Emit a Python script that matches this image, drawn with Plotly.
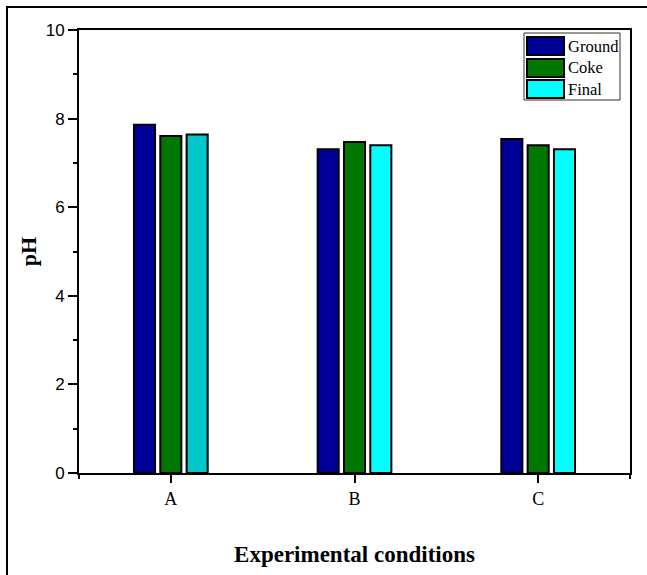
import plotly.graph_objects as go

categories = ["A", "B", "C"]
series_names = ["Ground", "Coke", "Final"]
ground = [7.86, 7.31, 7.54]
coke = [7.61, 7.47, 7.40]
final = [7.64, 7.40, 7.31]
y_ticks = [0, 2, 4, 6, 8, 10]

colors = {
    "Ground": ["#000099"] * 3,
    "Coke": ["#007700"] * 3,
    "Final": ["#00C8C8", "#00FFFF", "#00FFFF"],
}
legend_colors = {"Ground": "#000099", "Coke": "#007700", "Final": "#00FFFF"}

x_pos = list(range(len(categories)))
fig = go.Figure()
for name, vals in zip(series_names, [ground, coke, final]):
    fig.add_trace(go.Bar(
        x=x_pos, y=vals, name=name, showlegend=False,
        marker=dict(color=colors[name], line=dict(color="black", width=2)),
    ))

W, H = 647, 575
L, R, T, B = 79, 17, 30, 102
pw, ph = W - L - R, H - T - B

def px_x(x):
    return (x - L) / pw

def px_y(y):
    return (H - B - y) / ph

shapes = []
annotations = []
# outer frame
shapes.append(dict(type="rect", xref="paper", yref="paper",
                   x0=px_x(7), x1=px_x(660), y0=px_y(7), y1=px_y(600),
                   line=dict(color="black", width=2), fillcolor="rgba(0,0,0,0)", layer="below"))
# legend box
shapes.append(dict(type="rect", xref="paper", yref="paper",
                   x0=px_x(524), x1=px_x(620), y0=px_y(33), y1=px_y(100),
                   line=dict(color="#333333", width=1), fillcolor="white"))
sw_tops = [37, 59, 80]
for name, top in zip(series_names, sw_tops):
    shapes.append(dict(type="rect", xref="paper", yref="paper",
                       x0=px_x(527), x1=px_x(564), y0=px_y(top), y1=px_y(top + 18),
                       line=dict(color="black", width=2), fillcolor=legend_colors[name]))
    annotations.append(dict(xref="paper", yref="paper", x=px_x(566), y=px_y(top + 9),
                            text=name, showarrow=False, xanchor="left", yanchor="middle",
                            font=dict(family="Liberation Serif", size=16.5, color="black")))

fig.update_layout(
    width=W, height=H,
    margin=dict(l=L, r=R, t=T, b=B, pad=0),
    paper_bgcolor="white", plot_bgcolor="white",
    barmode="group", bargap=0.57, bargroupgap=0.2,
    shapes=shapes, annotations=annotations,
    xaxis=dict(
        range=[-0.5, 2.5], tickvals=x_pos, ticktext=categories,
        ticks="outside", ticklen=8, tickwidth=2, tickcolor="black",
        showline=True, linecolor="black", linewidth=2, mirror=True,
        showgrid=False, zeroline=False,
        tickfont=dict(family="Liberation Serif", size=18, color="black"),
        minor=dict(tickvals=[-0.5, 2.5], ticks="outside", ticklen=4, tickwidth=2, tickcolor="black", showgrid=False),
        title=dict(text="<b>Experimental conditions</b>", standoff=38,
                   font=dict(family="Liberation Serif", size=23, color="black")),
    ),
    yaxis=dict(
        range=[0, 10], tickvals=y_ticks,
        ticks="outside", ticklen=9, tickwidth=2, tickcolor="black",
        showline=True, linecolor="black", linewidth=2, mirror=True,
        showgrid=False, zeroline=False,
        tickfont=dict(family="Liberation Sans", size=17, color="black"),
        minor=dict(dtick=1, ticks="outside", ticklen=4, tickwidth=2, tickcolor="black", showgrid=False),
        title=dict(text="<b>pH</b>", standoff=3,
                   font=dict(family="Liberation Serif", size=22, color="black")),
    ),
)

fig.write_html("out.html", config={"displayModeBar": False},
               post_script="document.body.style.margin='0';document.body.style.overflow='hidden';")
